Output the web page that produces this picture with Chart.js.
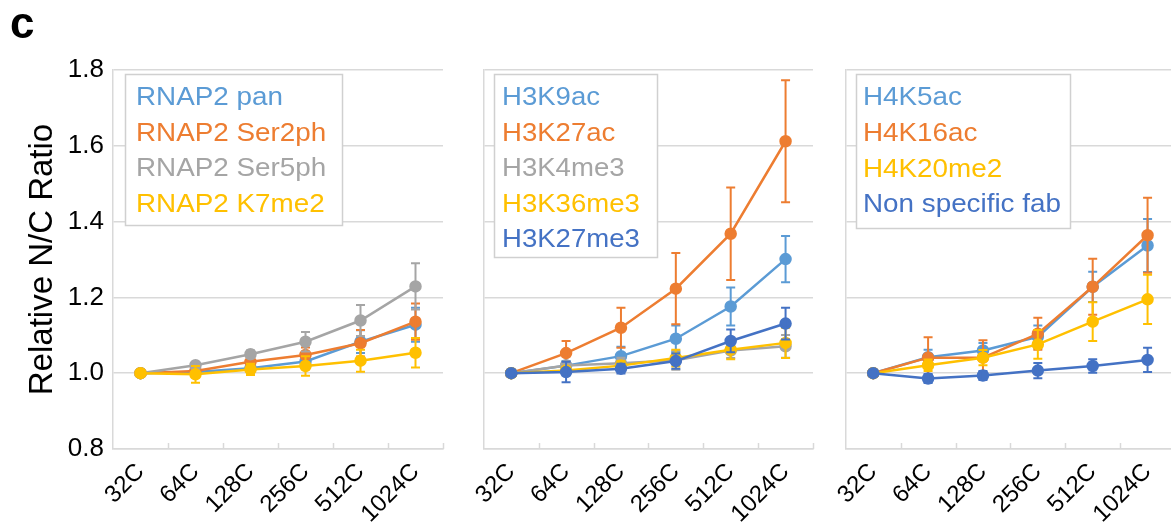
<!DOCTYPE html>
<html><head><meta charset="utf-8">
<script src="https://cdn.jsdelivr.net/npm/chart.js@4.4.1/dist/chart.umd.min.js"></script>
<style>
html,body{margin:0;padding:0;background:#fff;overflow:hidden;width:1171px;height:524px;position:relative;}
.p{position:absolute;top:0;height:524px;}
canvas{display:block;}
</style></head><body>
<div class="p" style="left:0;width:452px"><canvas id="c1" width="452" height="524"></canvas></div>
<div class="p" style="left:470px;width:352px"><canvas id="c2" width="352" height="524"></canvas></div>
<div class="p" style="left:832px;width:352px"><canvas id="c3" width="352" height="524"></canvas></div>
<script>
// ---------- data ----------
const categories = ['32C', '64C', '128C', '256C', '512C', '1024C'];
const yTickValues = [0.8, 1.0, 1.2, 1.4, 1.6, 1.8];

// Panel 1: RNAP2
const rnapLabels = ['RNAP2 pan', 'RNAP2 Ser2ph', 'RNAP2 Ser5ph', 'RNAP2 K7me2'];
const rnapPan      = [1.000, 1.003, 1.013, 1.031, 1.083, 1.128];
const rnapPanErr   = [0, 0.012, 0.012, 0.020, 0.030, 0.045];
const rnapSer2     = [1.000, 1.006, 1.030, 1.048, 1.079, 1.136];
const rnapSer2Err  = [0, 0.010, 0.015, 0.020, 0.035, 0.048];
const rnapSer5     = [1.000, 1.021, 1.050, 1.083, 1.139, 1.229];
const rnapSer5Err  = [0, 0.008, 0.010, 0.026, 0.041, 0.061];
const rnapK7       = [1.000, 0.997, 1.010, 1.019, 1.033, 1.054];
const rnapK7Err    = [0, 0.022, 0.015, 0.026, 0.029, 0.039];

// Panel 2: H3
const h3Labels = ['H3K9ac', 'H3K27ac', 'H3K4me3', 'H3K36me3', 'H3K27me3'];
const h3K9ac      = [1.000, 1.020, 1.045, 1.091, 1.176, 1.301];
const h3K9acErr   = [0, 0.012, 0.025, 0.035, 0.050, 0.061];
const h3K27ac     = [1.000, 1.053, 1.120, 1.223, 1.368, 1.612];
const h3K27acErr  = [0, 0.032, 0.053, 0.094, 0.122, 0.161];
const h3K4me3     = [1.000, 1.020, 1.026, 1.034, 1.060, 1.071];
const h3K4me3Err  = [0, 0.010, 0.015, 0.025, 0.020, 0.030];
const h3K36me3    = [1.000, 1.007, 1.020, 1.040, 1.062, 1.080];
const h3K36me3Err = [0, 0.010, 0.012, 0.022, 0.025, 0.040];
const h3K27me3    = [1.000, 1.003, 1.012, 1.032, 1.085, 1.131];
const h3K27me3Err = [0, 0.027, 0.013, 0.020, 0.030, 0.042];

// Panel 3: H4
const h4Labels = ['H4K5ac', 'H4K16ac', 'H4K20me2', 'Non specific fab'];
const h4K5ac      = [1.000, 1.042, 1.060, 1.096, 1.228, 1.337];
const h4K5acErr   = [0, 0.020, 0.020, 0.030, 0.040, 0.070];
const h4K16ac     = [1.000, 1.041, 1.041, 1.104, 1.228, 1.364];
const h4K16acErr  = [0, 0.054, 0.046, 0.042, 0.074, 0.099];
const h4K20me2    = [1.000, 1.021, 1.041, 1.076, 1.136, 1.195];
const h4K20me2Err = [0, 0.015, 0.020, 0.038, 0.051, 0.065];
const nonSpec     = [1.000, 0.986, 0.994, 1.007, 1.019, 1.035];
const nonSpecErr  = [0, 0.012, 0.012, 0.020, 0.018, 0.032];

// ---------- style ----------
const C_BLUE = '#5B9BD5', C_ORANGE = '#ED7D31', C_GRAY = '#A5A5A5', C_YELLOW = '#FFC000', C_DBLUE = '#4472C4';
const FONT = '"Liberation Sans", Arial, Helvetica, sans-serif';
const GRID = '#d9d9d9';

const errorBarPlugin = {
  id: 'errorBars',
  afterDatasetDraw(chart, args) {
    const ds = chart.data.datasets[args.index];
    if (!ds.errors) return;
    const y = chart.scales.y, ctx = chart.ctx;
    ctx.save();
    ctx.strokeStyle = ds.borderColor;
    ctx.lineWidth = 2;
    args.meta.data.forEach((pt, i) => {
      const e = ds.errors[i];
      if (!e) return;
      const v = ds.data[i];
      const y1 = y.getPixelForValue(v + e), y2 = y.getPixelForValue(v - e);
      ctx.beginPath();
      ctx.moveTo(pt.x, y1); ctx.lineTo(pt.x, y2);
      ctx.moveTo(pt.x - 4.5, y1); ctx.lineTo(pt.x + 4.5, y1);
      ctx.moveTo(pt.x - 4.5, y2); ctx.lineTo(pt.x + 4.5, y2);
      ctx.stroke();
    });
    ctx.restore();
  }
};

const xTickMarkPlugin = {
  id: 'xTickMarks',
  afterDraw(chart) {
    const x = chart.scales.x, ctx = chart.ctx;
    const n = chart.data.labels.length;
    const b = x.top;
    ctx.save();
    ctx.strokeStyle = GRID;
    ctx.lineWidth = 1.5;
    ctx.beginPath();
    for (let i = 1; i <= n; i++) {
      const p0 = x.getPixelForValue(i - 1);
      const p1 = i < n ? x.getPixelForValue(i) : p0 + (p0 - x.getPixelForValue(i - 2));
      const px = Math.round((p0 + p1) / 2) + 0.5;
      ctx.moveTo(px, b - 6); ctx.lineTo(px, b);
    }
    ctx.stroke();
    ctx.restore();
  }
};

const boxLegendPlugin = {
  id: 'boxLegend',
  afterDraw(chart, args, o) {
    if (!o || !o.box) return;
    const ctx = chart.ctx;
    const [bx, by, bw, bh] = o.box;
    ctx.save();
    ctx.fillStyle = '#ffffff';
    ctx.fillRect(bx, by, bw, bh);
    ctx.strokeStyle = '#d0d0d0';
    ctx.lineWidth = 1.5;
    ctx.strokeRect(bx + 0.5, by + 0.5, bw, bh);
    ctx.font = o.fontSize + 'px ' + FONT;
    ctx.textBaseline = 'alphabetic';
    ctx.textAlign = 'left';
    chart.data.datasets.forEach((ds, i) => {
      ctx.save();
      ctx.translate(o.textX, o.firstBaseline + i * o.lineH);
      ctx.scale(o.sx, 1);
      ctx.fillStyle = ds.borderColor;
      ctx.fillText(ds.label, 0, 0);
      ctx.restore();
    });
    if (o.panelLetter) {
      ctx.fillStyle = '#000';
      ctx.font = 'bold 44px ' + FONT;
      ctx.fillText(o.panelLetter, 10, 38);
    }
    ctx.restore();
  }
};

function series(label, data, errors, color, i) {
  return {
    label, data, errors,
    borderColor: color, backgroundColor: color,
    pointBackgroundColor: color, pointBorderColor: color,
    borderWidth: 2.5, pointRadius: 5, pointHoverRadius: 5,
    tension: 0, order: -i, clip: false
  };
}

function makeChart(id, datasets, cfg) {
  return new Chart(document.getElementById(id), {
    type: 'line',
    data: { labels: categories, datasets },
    options: {
      responsive: false, animation: false, devicePixelRatio: 1,
      layout: { padding: { top: 70, right: cfg.padRight, left: 0, bottom: 0 } },
      plugins: {
        legend: { display: false }, tooltip: { enabled: false },
        boxLegend: cfg.legend
      },
      scales: {
        x: {
          type: 'category', offset: true,
          grid: { display: false, drawTicks: false, offset: true },
          border: { display: true, color: GRID, width: 1.5 },
          ticks: {
            color: '#000', font: { family: FONT, size: 24 },
            minRotation: 45, maxRotation: 45, padding: 9, autoSkip: false
          },
          afterFit(s) { s.height = 75; }
        },
        y: {
          min: 0.8, max: 1.8,
          afterBuildTicks(s) { s.ticks = yTickValues.map(v => ({ value: v })); },
          grid: { color: GRID, lineWidth: 1.5, drawTicks: false },
          border: { display: true, color: GRID, width: 1.5 },
          ticks: {
            display: cfg.showY, color: '#000', font: { family: FONT, size: 26 },
            padding: 9, callback: v => Number(v).toFixed(1)
          },
          title: {
            display: cfg.showY, text: 'Relative N/C Ratio', color: '#000',
            font: { family: FONT, size: 33 }, padding: { top: 23, bottom: 0 }
          },
          afterFit(s) { s.width = cfg.yWidth; }
        }
      }
    },
    plugins: [errorBarPlugin, xTickMarkPlugin, boxLegendPlugin]
  });
}

makeChart('c1', [
  series(rnapLabels[0], rnapPan, rnapPanErr, C_BLUE, 0),
  series(rnapLabels[1], rnapSer2, rnapSer2Err, C_ORANGE, 1),
  series(rnapLabels[2], rnapSer5, rnapSer5Err, C_GRAY, 2),
  series(rnapLabels[3], rnapK7, rnapK7Err, C_YELLOW, 3)
], { showY: true, yWidth: 113, padRight: 9,
     legend: { box: [125, 74, 217, 151], textX: 136, firstBaseline: 105, lineH: 35.7, fontSize: 26.5, sx: 1.05, panelLetter: 'c' } });

makeChart('c2', [
  series(h3Labels[0], h3K9ac, h3K9acErr, C_BLUE, 0),
  series(h3Labels[1], h3K27ac, h3K27acErr, C_ORANGE, 1),
  series(h3Labels[2], h3K4me3, h3K4me3Err, C_GRAY, 2),
  series(h3Labels[3], h3K36me3, h3K36me3Err, C_YELLOW, 3),
  series(h3Labels[4], h3K27me3, h3K27me3Err, C_DBLUE, 4)
], { showY: false, yWidth: 13, padRight: 9,
     legend: { box: [24, 74, 163, 183], textX: 32, firstBaseline: 105, lineH: 35.5, fontSize: 26, sx: 1.06 } });

makeChart('c3', [
  series(h4Labels[0], h4K5ac, h4K5acErr, C_BLUE, 0),
  series(h4Labels[1], h4K16ac, h4K16acErr, C_ORANGE, 1),
  series(h4Labels[2], h4K20me2, h4K20me2Err, C_YELLOW, 2),
  series(h4Labels[3], nonSpec, nonSpecErr, C_DBLUE, 3)
], { showY: false, yWidth: 13, padRight: 9,
     legend: { box: [24, 74, 214, 154], textX: 31, firstBaseline: 105, lineH: 35.8, fontSize: 26, sx: 1.07 } });
</script>
</body></html>
